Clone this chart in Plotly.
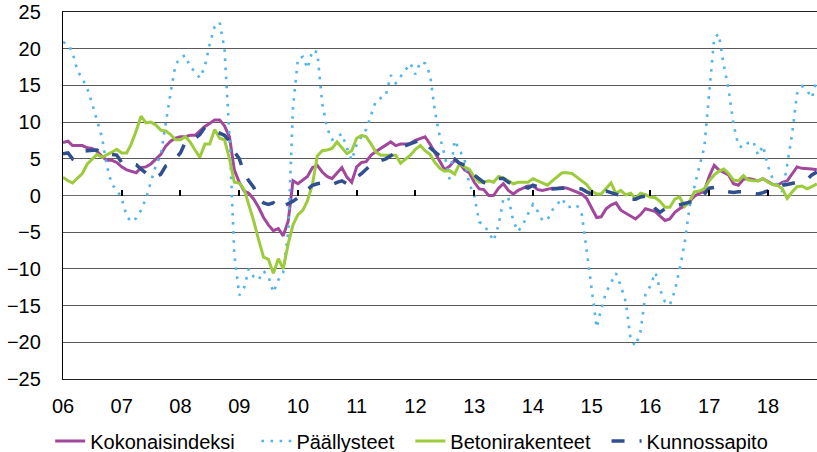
import plotly.graph_objects as go
import pandas as pd

# Monthly observations, Jan 2006 onward (annual change, %)
kokonaisindeksi = [
    7.2, 7.4, 6.8, 6.8, 6.8, 6.5, 6.4, 6.0, 5.3, 4.8, 4.8, 4.5,
    3.9, 3.5, 3.3, 3.1, 3.8, 3.9, 4.3, 4.9, 5.6, 6.7, 7.4, 7.8,
    8.0, 8.0, 8.2, 8.2, 8.8, 9.4, 9.8, 10.3, 10.3, 9.5, 8.0, 3.5,
    1.8, 0.6, 0.3, -0.5, -1.6, -3.0, -4.0, -4.8, -4.5, -5.5, -3.5, 2.0,
    1.6, 2.1, 2.6, 3.8, 4.1, 3.2, 2.6, 2.3, 3.0, 3.8, 2.5, 1.8,
    3.9, 4.5, 4.6, 5.5, 6.0, 6.4, 6.8, 7.3, 6.8, 7.0, 7.0, 7.1,
    7.5, 7.8, 8.0, 7.0, 5.8, 4.5, 3.5, 4.0, 4.8, 4.4, 3.5, 3.1,
    1.8, 0.9, 0.8, 0.0, 0.0, 1.0, 1.6, 0.7, 0.2, 0.7, 1.0, 1.3,
    1.3, 0.8, 0.7, 0.9, 1.0, 1.0, 1.1, 1.0, 0.7, 0.4, 0.2, -0.4,
    -1.8, -3.0, -2.9, -1.8, -1.3, -1.0, -2.0, -2.4, -2.8, -3.2, -2.6, -1.8,
    -2.0, -2.2, -2.8, -3.4, -3.2, -2.3, -1.8, -1.4, -0.8, -0.1, 0.3, 0.6,
    2.6, 4.1, 3.5, 3.2, 2.8, 1.6, 1.4, 2.2, 2.3, 2.2, 2.0, 2.3,
    1.9, 1.5, 1.4, 1.8, 2.0, 3.0, 3.9, 3.7, 3.7, 3.6, 3.5,
]

paallysteet = [
    20.9, 20.6, 19.5, 17.0, 15.9, 14.6, 12.5, 10.2, 7.9, 4.0, 1.5, 0.8,
    -0.4, -2.8, -3.6, -3.1, -2.0, -0.4, 1.8, 4.1, 5.5, 10.0, 14.0, 17.8,
    18.8, 19.1, 17.5, 16.9, 16.0, 17.6, 20.6, 23.0, 23.6, 20.0, 8.0, -8.0,
    -13.6, -12.5, -10.0, -11.1, -11.5, -10.3, -11.0, -13.2, -11.5, -10.5, -5.0, 12.0,
    18.7, 18.9, 17.3, 19.8, 19.5, 12.5, 9.2, 7.6, 8.0, 8.4, 6.5, 4.8,
    7.0, 8.0, 9.0, 11.0, 12.9, 13.3, 13.6, 16.4, 15.3, 16.2, 17.1, 18.0,
    16.5, 18.2, 18.0, 16.5, 11.5, 8.0, 5.5, 2.2, 7.5, 6.3, 4.9, 1.6,
    0.0, -3.6, -4.0, -5.0, -6.2, -4.0, -0.5, -0.3, -3.5, -4.9, -3.9, -2.5,
    -1.2, -2.2, -3.4, -3.3, -2.0, -1.2, -0.4, -1.6, -1.5, -1.3, -2.6, -7.5,
    -12.5, -18.0, -15.5, -13.2, -11.9, -10.6, -12.3, -14.5, -19.7, -20.5, -18.5, -13.5,
    -12.3, -10.5, -12.8, -14.5, -14.9, -13.0, -10.0, -6.5, -1.5, 1.4, 4.0, 6.5,
    14.0, 21.5, 22.0, 17.8, 14.5, 9.7, 6.8, 6.5, 7.2, 7.4, 5.5, 6.8,
    4.0, 2.2, 1.5, 0.5, 4.2, 8.5, 13.9, 14.9, 14.3, 13.3, 15.8,
]

betonirakenteet = [
    2.5, 2.0, 1.7, 2.4, 3.0, 4.3, 4.9, 5.6, 5.2, 5.5, 5.9, 6.3,
    5.8, 5.8, 7.0, 8.8, 10.8, 9.9, 10.0, 9.6, 8.9, 8.8, 8.3, 7.6,
    7.6, 8.0, 7.3, 6.2, 5.2, 7.0, 7.0, 9.0, 7.8, 7.6, 5.0, 1.8,
    1.7, 0.8, -1.2, -3.5, -6.0, -8.4, -8.7, -10.6, -8.6, -10.0, -6.6, -4.0,
    -2.6, -2.0, -0.7, 1.5, 5.4, 6.1, 6.2, 6.4, 7.3, 6.5, 5.7, 6.1,
    7.8, 8.2, 8.0, 7.0, 5.9, 5.5, 5.5, 5.6, 5.5, 4.4, 4.9, 5.5,
    6.3, 6.8, 6.1, 5.6, 4.5, 3.7, 3.3, 3.4, 2.9, 4.3, 3.9, 3.6,
    2.5, 1.8, 1.8, 2.0, 1.8, 2.6, 2.4, 2.0, 1.6, 1.8, 1.8, 1.8,
    2.3, 2.0, 1.8, 1.4, 2.0, 2.5, 3.1, 3.1, 3.0, 2.5, 2.0, 1.5,
    0.6, 0.2, 0.2, 0.9, 1.7, 0.3, 0.7, 0.1, 0.3, -0.4, 0.3, 0.1,
    -0.2, -0.3, -0.8, -1.6, -1.6, -0.5, -0.2, -1.5, -0.8, 0.5, 0.6, 0.9,
    2.0, 2.8, 3.3, 3.6, 3.0, 2.1, 2.0, 2.7, 2.1, 2.0, 2.0, 2.3,
    1.8, 1.5, 1.4, 0.9, -0.4, 0.5, 1.2, 1.3, 0.9, 1.2, 1.6,
]

kunnossapito = [
    5.7, 5.8, 5.0, 5.5, 6.0, 6.1, 6.2, 6.2, 5.7, 5.5, 5.6, 5.5,
    4.5, 4.3, 4.3, 4.2, 3.6, 3.0, 2.5, 2.5, 2.9, 4.0, 4.3, 5.0,
    5.8, 7.3, 7.5, 7.8, 8.3, 9.3, 9.1, 8.8, 8.5, 8.2, 7.4, 6.0,
    5.0, 3.0, 2.0, 1.1, -0.4, -1.0, -1.2, -1.0, -1.8, -1.5, -1.1, -0.8,
    -0.3, 0.2, 0.8, 1.4, 1.6, 1.7, 1.4, 1.5, 1.8, 2.0, 1.6, 2.0,
    2.5, 3.0, 3.6, 4.2, 4.5, 4.7, 5.0, 5.4, 5.9, 6.5, 6.8, 7.0,
    7.3, 7.6, 7.2, 6.5, 5.9, 5.4, 5.3, 5.1, 5.0, 4.4, 4.1, 3.9,
    2.8, 2.2, 1.8, 1.6, 1.9, 2.3, 2.3, 1.8, 1.5, 1.4, 1.2, 1.0,
    1.4, 1.2, 1.0, 0.9, 0.9, 1.0, 1.0, 1.0, 1.0, 1.0, 0.9, 0.5,
    0.2, 0.3, 0.5, 0.6, 0.4, 0.2, -0.1, -0.3, -0.5, -0.5, -0.2, -0.1,
    -0.8, -1.8, -2.3, -1.8, -1.6, -1.4, -1.2, -1.1, -0.9, -0.8, -0.5, 0.2,
    1.0, 1.1, 1.0, 0.6, 0.5, 0.4, 0.5, 0.5, 0.5, 0.3, 0.2, 0.4,
    0.7, 0.9, 1.1, 1.4, 1.5, 1.6, 1.8, 2.0, 2.2, 2.8, 3.2,
]

series_names = ["Kokonaisindeksi", "Päällysteet", "Betonirakenteet", "Kunnossapito"]
years = list(range(2006, 2019))
year_labels = ["06", "07", "08", "09", "10", "11", "12", "13", "14", "15", "16", "17", "18"]
y_ticks = [25, 20, 15, 10, 5, 0, -5, -10, -15, -20, -25]

months = pd.date_range("2006-01-01", periods=len(kokonaisindeksi), freq="MS")
year_starts = [f"{y}-01-01" for y in years]

FONT = "Liberation Sans, Arial, sans-serif"
NB = "\u00a0"  # spacing after legend entries

fig = go.Figure()
fig.add_trace(go.Scatter(x=months, y=kokonaisindeksi, name=series_names[0] + NB * 3, mode="lines",
                         line=dict(color="#A1489C", width=3)))
fig.add_trace(go.Scatter(x=months, y=paallysteet, name=series_names[1] + NB * 2, mode="lines",
                         line=dict(color="#52B4EA", width=2.6, dash="2.6px,6.5px")))
fig.add_trace(go.Scatter(x=months, y=betonirakenteet, name=series_names[2] + NB * 2, mode="lines",
                         line=dict(color="#9CCB3B", width=3)))
fig.add_trace(go.Scatter(x=months, y=kunnossapito, name=series_names[3], mode="lines",
                         line=dict(color="#2F4F8F", width=3.5, dash="13px,15px")))

fig.update_layout(
    width=817, height=452,
    margin=dict(l=63, r=0, t=12, b=73, autoexpand=False),
    paper_bgcolor="white", plot_bgcolor="white",
    font=dict(family=FONT, size=20, color="#000000"),
    showlegend=True,
    legend=dict(orientation="h", x=-0.017, xanchor="left", y=-0.169, yanchor="middle",
                font=dict(size=20, family=FONT), bgcolor="rgba(0,0,0,0)"),
    xaxis=dict(
        type="date", range=["2006-01-01", "2018-11-02"], automargin=False,
        tickvals=year_starts, ticktext=year_labels,
        ticks="outside", ticklen=9, tickcolor="rgba(0,0,0,0)",
        showgrid=False, zeroline=False,
        showline=True, linecolor="#222222", linewidth=1.3, mirror=True,
        tickfont=dict(size=20),
    ),
    xaxis2=dict(
        overlaying="x", matches="x", anchor="free", position=0.5, side="bottom",
        type="date", tickvals=year_starts, showticklabels=False, automargin=False,
        ticks="inside", ticklen=6, tickwidth=1.6, tickcolor="#000000",
        showgrid=False, zeroline=False, showline=False,
    ),
    yaxis=dict(
        range=[-25, 25], tickvals=y_ticks, automargin=False,
        ticks="outside", ticklen=17, tickcolor="rgba(0,0,0,0)",
        showgrid=True, gridcolor="#5a5a5a", gridwidth=1.2,
        zeroline=True, zerolinecolor="#6a6a6a", zerolinewidth=1.2,
        showline=True, linecolor="#000000", linewidth=1.3,
        tickfont=dict(size=20),
    ),
)
# invisible helper trace so the year-tick axis on the zero line is drawn
fig.add_trace(go.Scatter(x=[months[0]], y=[0], xaxis="x2", mode="markers",
                         marker=dict(opacity=0), showlegend=False, hoverinfo="skip"))

fig.write_html("out.html", config={"displayModeBar": False},
               post_script="document.body.style.margin='0';document.body.style.overflow='hidden';")
